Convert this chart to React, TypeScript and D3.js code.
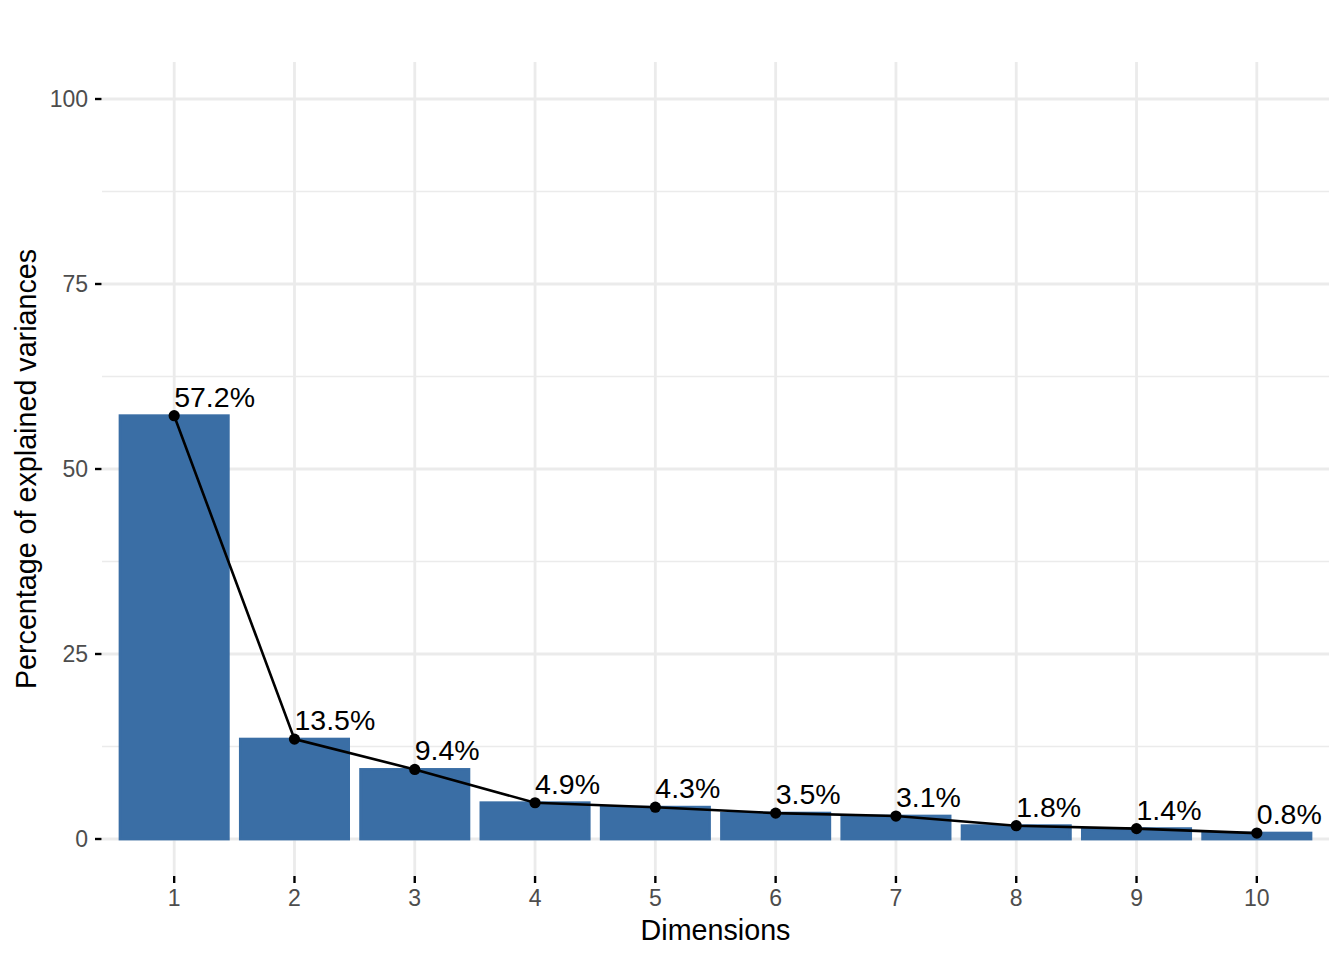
import { useEffect, useRef } from "react";
import { line, scaleLinear, scalePoint, select } from "d3";

const dims = ["1", "2", "3", "4", "5", "6", "7", "8", "9", "10"];
const variances = [57.2, 13.5, 9.4, 4.9, 4.3, 3.5, 3.1, 1.8, 1.4, 0.8];
const yTicks = [0, 25, 50, 75, 100];
const yMinor = [12.5, 37.5, 62.5, 87.5];

const W = 1344,
  H = 960;
const FONT = "'Liberation Sans', Arial, Helvetica, sans-serif";
const BAR = "#3a6ea5";

// Scree plot: explained variance per dimension, bars + line + labels.
export default function App() {
  const ref = useRef<SVGSVGElement>(null);

  useEffect(() => {
    if (!ref.current) return;
    const svg = select(ref.current);
    svg.selectAll("*").remove();

    const left = 102,
      right = 1329,
      top = 62,
      bottom = 876;

    const x = scalePoint<string>().domain(dims).range([left, right]).padding(0.6);
    const y = scaleLinear().domain([-5, 105]).range([bottom, top]);
    const bw = x.step() * 0.9;

    const g = svg.append("g");

    // grid
    g.selectAll(".minor")
      .data(yMinor)
      .join("line")
      .attr("x1", left)
      .attr("x2", right)
      .attr("y1", (d) => y(d))
      .attr("y2", (d) => y(d))
      .attr("stroke", "#ebebeb")
      .attr("stroke-width", 1.4);
    g.selectAll(".major")
      .data(yTicks)
      .join("line")
      .attr("x1", left)
      .attr("x2", right)
      .attr("y1", (d) => y(d))
      .attr("y2", (d) => y(d))
      .attr("stroke", "#ebebeb")
      .attr("stroke-width", 2.8);
    g.selectAll(".vgrid")
      .data(dims)
      .join("line")
      .attr("x1", (d) => x(d)!)
      .attr("x2", (d) => x(d)!)
      .attr("y1", top)
      .attr("y2", bottom)
      .attr("stroke", "#ebebeb")
      .attr("stroke-width", 2.8);

    // bars
    g.selectAll(".bar")
      .data(variances)
      .join("rect")
      .attr("x", (_d, i) => x(dims[i])! - bw / 2)
      .attr("width", bw)
      .attr("y", (d) => y(d))
      .attr("height", (d) => y(0) - y(d))
      .attr("fill", BAR)
      .attr("stroke", BAR)
      .attr("stroke-width", 2.8);

    // line + points
    const lineGen = line<number>()
      .x((_d, i) => x(dims[i])!)
      .y((d) => y(d));
    g.append("path")
      .attr("d", lineGen(variances) || "")
      .attr("fill", "none")
      .attr("stroke", "#000")
      .attr("stroke-width", 2.6);
    g.selectAll(".pt")
      .data(variances)
      .join("circle")
      .attr("cx", (_d, i) => x(dims[i])!)
      .attr("cy", (d) => y(d))
      .attr("r", 5.6)
      .attr("fill", "#000");

    // value labels
    g.selectAll(".lab")
      .data(variances)
      .join("text")
      .attr("x", (_d, i) => x(dims[i])!)
      .attr("y", (d) => y(d) - 9)
      .attr("font-family", FONT)
      .attr("font-size", 28.5)
      .attr("fill", "#000")
      .text((d) => d.toFixed(1) + "%");

    // y axis
    g.selectAll(".ytick")
      .data(yTicks)
      .join("line")
      .attr("x1", 95)
      .attr("x2", 101.5)
      .attr("y1", (d) => y(d))
      .attr("y2", (d) => y(d))
      .attr("stroke", "#000")
      .attr("stroke-width", 2.4);
    g.selectAll(".ylab")
      .data(yTicks)
      .join("text")
      .attr("x", 88)
      .attr("y", (d) => y(d))
      .attr("dy", "0.36em")
      .attr("text-anchor", "end")
      .attr("font-family", FONT)
      .attr("font-size", 23)
      .attr("fill", "#4d4d4d")
      .text((d) => String(d));

    // x axis
    g.selectAll(".xtick")
      .data(dims)
      .join("line")
      .attr("x1", (d) => x(d)!)
      .attr("x2", (d) => x(d)!)
      .attr("y1", bottom)
      .attr("y2", bottom + 7)
      .attr("stroke", "#000")
      .attr("stroke-width", 2.4);
    g.selectAll(".xlab")
      .data(dims)
      .join("text")
      .attr("x", (d) => x(d)!)
      .attr("y", 906)
      .attr("text-anchor", "middle")
      .attr("font-family", FONT)
      .attr("font-size", 23)
      .attr("fill", "#4d4d4d")
      .text((d) => d);

    // axis titles
    g.append("text")
      .attr("x", (left + right) / 2)
      .attr("y", 940)
      .attr("text-anchor", "middle")
      .attr("font-family", FONT)
      .attr("font-size", 28.7)
      .attr("fill", "#000")
      .text("Dimensions");
    g.append("text")
      .attr("transform", `translate(36,${(top + bottom) / 2}) rotate(-90)`)
      .attr("text-anchor", "middle")
      .attr("font-family", FONT)
      .attr("font-size", 28.7)
      .attr("fill", "#000")
      .text("Percentage of explained variances");
  }, []);

  return (
    <>
      <style>{"body{margin:0;background:#fff}"}</style>
      <svg ref={ref} width={W} height={H} viewBox={`0 0 ${W} ${H}`} style={{ display: "block", background: "#fff" }} />
    </>
  );
}
